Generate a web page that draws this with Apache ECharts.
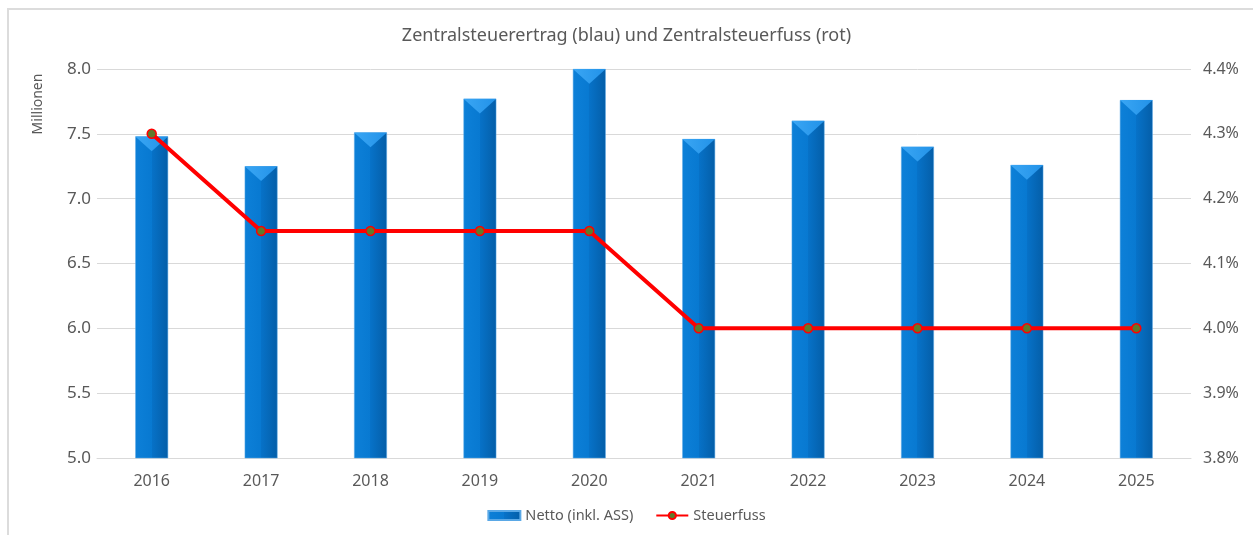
<!DOCTYPE html>
<html>
<head>
<meta charset="utf-8">
<script src="https://cdn.jsdelivr.net/npm/echarts@6/dist/echarts.min.js"></script>
<style>
  html, body { margin: 0; padding: 0; background: #fff; }
  #frame { position: absolute; left: 7px; top: 8px; width: 1300px; height: 600px;
           border-top: 2px solid #dcdcdc; border-left: 2px solid #dcdcdc; }
  #chart { position: absolute; left: 0; top: 0; width: 1253px; height: 535px; }
</style>
</head>
<body>
<div id="frame"></div>
<div id="chart"></div>
<script>
'use strict';

var jahre = ['2016', '2017', '2018', '2019', '2020', '2021', '2022', '2023', '2024', '2025'];
var netto = [7.48, 7.25, 7.51, 7.77, 8.00, 7.46, 7.60, 7.40, 7.26, 7.76];
var steuerfuss = [4.30, 4.15, 4.15, 4.15, 4.15, 4.00, 4.00, 4.00, 4.00, 4.00];

var grau = '#595959';
var schrift = '"Noto Sans", "Open Sans", sans-serif';

var myChart = echarts.init(document.getElementById('chart'));

// bar gradient, lighter left half, darker right half
var balkenFarbe = new echarts.graphic.LinearGradient(0, 0, 1, 0, [
  { offset: 0, color: '#0d80d8' },
  { offset: 0.5, color: '#0879d1' },
  { offset: 0.5, color: '#0772c8' },
  { offset: 1, color: '#045ea8' }
]);

var option = {
  backgroundColor: 'transparent',
  textStyle: { fontFamily: schrift },
  title: {
    text: 'Zentralsteuerertrag (blau) und Zentralsteuerfuss (rot)',
    left: 'center',
    top: 22,
    textStyle: { color: grau, fontSize: 18, fontWeight: 'normal', fontFamily: schrift }
  },
  legend: {
    bottom: 7,
    left: 'center',
    itemGap: 22,
    itemWidth: 32,
    itemHeight: 9,
    textStyle: { color: grau, fontSize: 14.5, fontFamily: schrift },
    data: [
      { name: 'Netto (inkl. ASS)', icon: 'rect' },
      { name: 'Steuerfuss' }
    ]
  },
  graphic: [{
    type: 'text',
    x: 38,
    y: 104,
    rotation: Math.PI / 2,
    style: {
      text: 'Millionen',
      fill: grau,
      font: '14px ' + schrift,
      align: 'center',
      verticalAlign: 'middle'
    }
  }],
  grid: { left: 97, right: 62, top: 69, bottom: 77 },
  xAxis: [{
    type: 'category',
    data: jahre,
    axisLine: { show: true, lineStyle: { color: '#d9d9d9' } },
    axisTick: { show: false },
    axisLabel: { color: grau, fontSize: 16, margin: 15 }
  }],
  yAxis: [{
    type: 'value',
    min: 5.0,
    max: 8.0,
    interval: 0.5,
    axisLine: { show: false },
    axisTick: { show: false },
    axisLabel: { color: grau, fontSize: 17, margin: 6, formatter: function(v) { return v.toFixed(1); } },
    splitLine: { lineStyle: { color: '#d9d9d9', width: 1 } }
  }, {
    type: 'value',
    min: 3.8,
    max: 4.4,
    interval: 0.1,
    position: 'right',
    axisLine: { show: false },
    axisTick: { show: false },
    axisLabel: { color: grau, fontSize: 16, margin: 12, formatter: function(v) { return v.toFixed(1) + '%'; } },
    splitLine: { show: false }
  }],
  series: [{
    name: 'Netto (inkl. ASS)',
    type: 'bar',
    barWidth: '30%',
    data: netto,
    itemStyle: { color: balkenFarbe, borderColor: '#5aa8e6', borderWidth: 0.5 },
    z: 2
  }, {
    // bevel on top of each bar
    name: 'bevel',
    type: 'custom',
    data: netto,
    silent: true,
    z: 3,
    renderItem: function(params, api) {
      var oben = api.coord([api.value(0), api.value(1)]);
      var w = api.size([1, 0])[0] * 0.3;
      var h = w * 0.45;
      var l = oben[0] - w / 2, r = oben[0] + w / 2;
      return {
        type: 'polygon',
        shape: { points: [[l, oben[1]], [r, oben[1]], [oben[0], oben[1] + h]] },
        style: {
          fill: new echarts.graphic.LinearGradient(0, 0, 1, 0, [
            { offset: 0, color: '#3aa6f4' },
            { offset: 1, color: '#2292e8' }
          ])
        }
      };
    },
    encode: { x: 0, y: 1 }
  }, {
    name: 'Steuerfuss',
    type: 'line',
    yAxisIndex: 1,
    data: steuerfuss,
    symbol: 'circle',
    symbolSize: 9,
    lineStyle: { color: '#ff0000', width: 4 },
    itemStyle: { color: '#5f7a2a', borderColor: '#ff0000', borderWidth: 1.5 },
    z: 5
  }]
};

myChart.setOption(option);
</script>
</body>
</html>
